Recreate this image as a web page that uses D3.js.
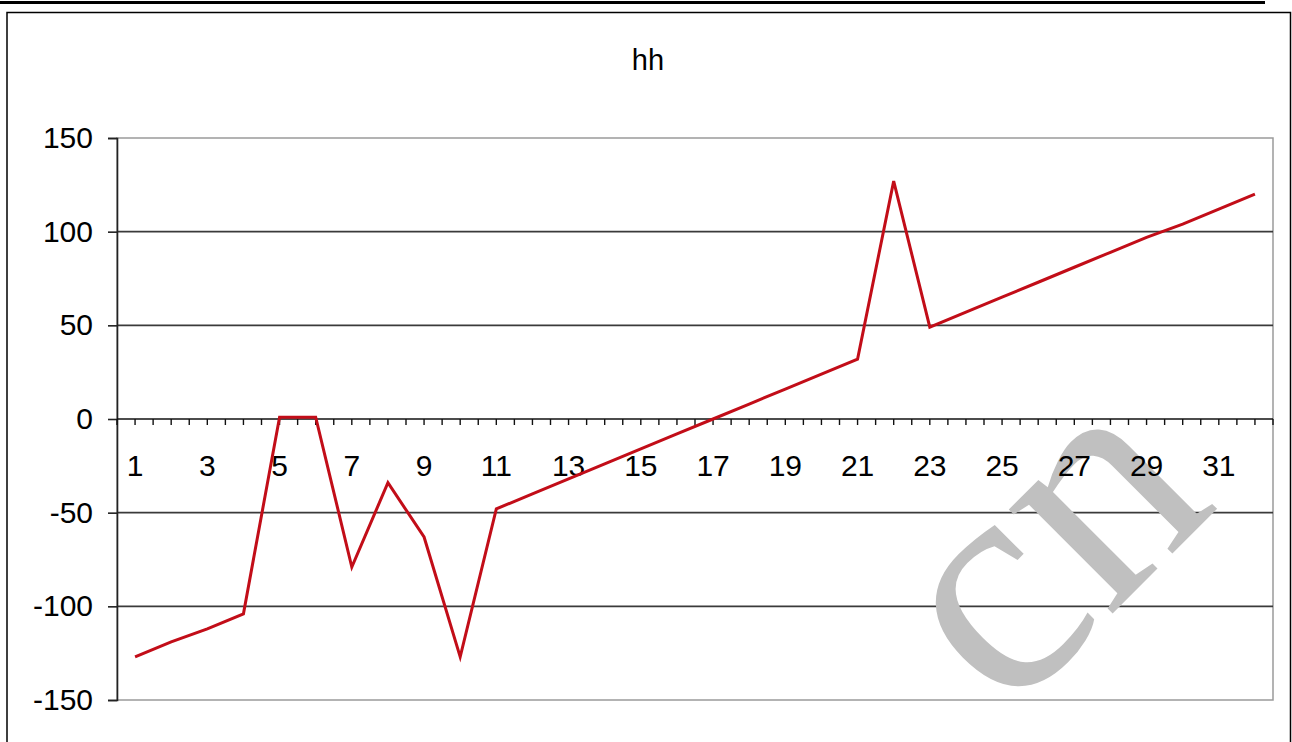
<!DOCTYPE html>
<html>
<head>
<meta charset="utf-8">
<script src="https://cdn.jsdelivr.net/npm/d3@7"></script>
<style>
html,body{margin:0;padding:0;background:#fff;}
svg{display:block;}
</style>
</head>
<body>
<svg id="chart" width="1292" height="742"></svg>
<script>
const title = "hh";
const categories = [1,2,3,4,5,6,7,8,9,10,11,12,13,14,15,16,17,18,19,20,21,22,23,24,25,26,27,28,29,30,31,32];
const values = [-127,-119,-112,-104,1,1,-79,-34,-63,-127,-48,-40,-32,-24,-16,-8,0,8,16,24,32,127,49,57,65,73,81,89,97,104,112,120];
const yTicks = [-150,-100,-50,0,50,100,150];
const xLabels = [1,3,5,7,9,11,13,15,17,19,21,23,25,27,29,31];
const watermark = "cn";

const SANS = "'Liberation Sans',Arial,sans-serif";
const SERIF = "'Liberation Serif','DejaVu Serif',serif";
const svg = d3.select("#chart");
const W = 1292, H = 742;
const plot = {left:117, top:138, right:1273, bottom:700};

// top rule and outer frame
svg.append("rect").attr("x",0).attr("y",1).attr("width",1265).attr("height",3).attr("fill","#000");
svg.append("path").attr("d",`M7,${H+5}V12.5H1290.5V${H+5}`).attr("fill","none").attr("stroke","#000").attr("stroke-width",1.5);

const x = d3.scaleBand().domain(categories).range([plot.left, plot.right]).padding(0);
const y = d3.scaleLinear().domain([-150,150]).range([plot.bottom, plot.top]);
const cx = d => x(d) + x.bandwidth()/2;

// plot area border
svg.append("rect").attr("x",plot.left).attr("y",plot.top)
  .attr("width",plot.right-plot.left).attr("height",plot.bottom-plot.top)
  .attr("fill","none").attr("stroke","#9a9a9a").attr("stroke-width",1.5);

// gridlines
svg.append("g").selectAll("line").data(yTicks.filter(v => v!==0 && Math.abs(v)!==150)).join("line")
  .attr("x1",plot.left).attr("x2",plot.right)
  .attr("y1",d=>y(d)).attr("y2",d=>y(d))
  .attr("stroke","#3a3a3a").attr("stroke-width",1.6);

// watermark
svg.append("text").text(watermark)
  .attr("transform","translate(1007,719) rotate(-45)")
  .style("font-family",SERIF)
  .style("font-size","320px").attr("fill","#c0c0c0");

// y axis
const yAxis = d3.axisLeft(y).tickValues(yTicks).tickSize(9).tickPadding(15).tickFormat(d => String(d));
const gy = svg.append("g").attr("transform",`translate(${plot.left},0)`).call(yAxis);
gy.select(".domain").attr("stroke","#222").attr("stroke-width",1.6);
gy.selectAll(".tick line").attr("stroke","#222").attr("stroke-width",1.6);
gy.selectAll(".tick text").style("font-size","30px").attr("fill","#000").style("font-family",SANS);

// x axis at zero
const tickPos = [];
categories.forEach(c => { tickPos.push(x(c)); tickPos.push(cx(c)); });
tickPos.push(plot.right);
const gx = svg.append("g");
gx.append("line").attr("x1",plot.left).attr("x2",plot.right).attr("y1",y(0)).attr("y2",y(0))
  .attr("stroke","#111").attr("stroke-width",1.6);
gx.selectAll("line.tk").data(tickPos).join("line").attr("class","tk")
  .attr("x1",d=>d).attr("x2",d=>d).attr("y1",y(0)).attr("y2",y(0)+6)
  .attr("stroke","#111").attr("stroke-width",1.4);
gx.selectAll("text").data(xLabels).join("text")
  .attr("x",d=>cx(d)).attr("y",y(0)+57)
  .attr("text-anchor","middle").style("font-size","30px").style("font-family",SANS).attr("fill","#000")
  .text(d=>d);

// series line
const line = d3.line().x((d,i)=>cx(categories[i])).y(d=>y(d));
svg.append("path").datum(values).attr("d",line)
  .attr("fill","none").attr("stroke","#c20d18").attr("stroke-width",3).attr("stroke-linejoin","miter");

// title
svg.append("text").attr("x",648).attr("y",70).attr("text-anchor","middle")
  .style("font-size","29px").style("font-family",SANS).attr("fill","#000").text(title);
</script>
</body>
</html>
